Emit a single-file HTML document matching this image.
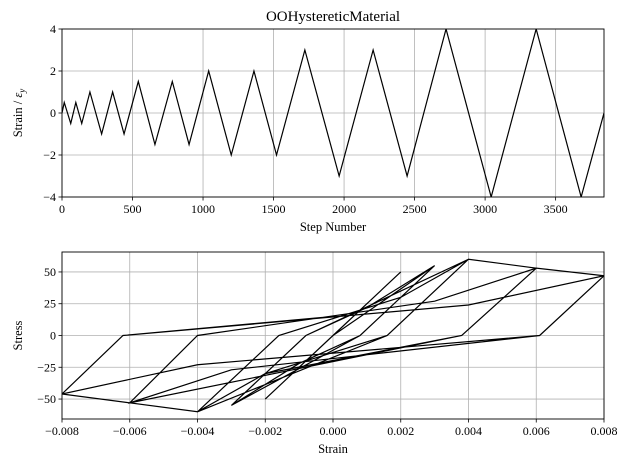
<!DOCTYPE html>
<html><head><meta charset="utf-8"><style>
body{margin:0;background:#fff;}
svg text{font-family:"Liberation Serif","DejaVu Serif",serif;fill:#000;}
</style></head><body>
<svg id="fig" width="630" height="469" viewBox="0 0 630 469" xmlns="http://www.w3.org/2000/svg">
<text x="333" y="21" font-size="15" text-anchor="middle">OOHystereticMaterial</text>
<g id="top"></g>
<g id="bot"></g>
</svg>
<script>
// Top chart data
const stepPeaks = [0, 16, 62, 98, 140, 198, 281, 359, 440, 541, 659, 782, 901, 1040, 1200, 1361, 1521, 1722, 1965, 2206, 2447, 2723, 3043, 3362, 3681, 3843];
const strainPeaks = [0, 0.5, -0.5, 0.5, -0.5, 1, -1, 1, -1, 1.5, -1.5, 1.5, -1.5, 2, -2, 2, -2, 3, -3, 3, -3, 4, -4, 4, -4, 0];
const topXTicks = [0, 500, 1000, 1500, 2000, 2500, 3000, 3500];
const topYTicks = [-4, -2, 0, 2, 4];
// Bottom chart data
const hStrain = [0,0.001,-0.001,0.001,-0.001,0.002,0,-0.002,0,0.002,0,-0.002,0,0.003,0.0008,-0.001,-0.003,-0.0008,0.001,0.003,0.0008,-0.003,-0.0008,0.004,0.0016,-0.002,-0.004,-0.0016,0.002,0.004,0.0016,-0.004,-0.0016,0.002,0.004,0.006,0.0038,-0.002,-0.004,-0.006,-0.004,0.003,0.006,0.0038,-0.006,-0.004,0.003,0.006,0.008,0.0061,-0.003,-0.006,-0.008,-0.0062,0.004,0.008,0.0061,-0.004,-0.008,-0.0062,0];
const hStress = [0,25,-25,25,-25,50,0,-50,0,50,0,-50,0,55,0,-22,-55,0,22,55,0,-55,0,60,0,-30,-60,0,30,60,0,-60,0,30,60,53,0,-30,-60,-53,0,27,53,0,-53,0,27,53,47,0,-27,-53,-46,0,24,47,0,-23,-46,0,15];
const botXTicks = [-0.008,-0.006,-0.004,-0.002,0,0.002,0.004,0.006,0.008];
const botYTicks = [-50,-25,0,25,50];

const NS="http://www.w3.org/2000/svg";
function mk(parent,tag,attrs){const e=document.createElementNS(NS,tag);for(const k in attrs)e.setAttribute(k,attrs[k]);parent.appendChild(e);return e;}
function fmt(v,d){const s=v.toFixed(d);return s.replace('-','\u2212');}

function axes(g,L,R,T,B,xmin,xmax,ymin,ymax,xt,yt,xd,xlab,ylab,xs,ys,name){
  const X=v=>L+(v-xmin)/(xmax-xmin)*(R-L);
  const Y=v=>B-(v-ymin)/(ymax-ymin)*(B-T);
  xt.forEach(v=>{
    const l=mk(g,'line',{x1:X(v),x2:X(v),y1:T,y2:B,stroke:'#b0b0b0','stroke-width':0.8});
    
    const tk=mk(g,'line',{x1:X(v),x2:X(v),y1:B,y2:B+3.5,stroke:'#000','stroke-width':0.8});
    
    const t=mk(g,'text',{x:X(v),y:B+16,'font-size':12,'text-anchor':'middle'});t.textContent=fmt(v,xd);
    
  });
  yt.forEach(v=>{
    const l=mk(g,'line',{x1:L,x2:R,y1:Y(v),y2:Y(v),stroke:'#b0b0b0','stroke-width':0.8});
    
    const tk=mk(g,'line',{x1:L-3.5,x2:L,y1:Y(v),y2:Y(v),stroke:'#000','stroke-width':0.8});
    
    const t=mk(g,'text',{x:L-6,y:Y(v)+4,'font-size':12,'text-anchor':'end'});t.textContent=fmt(v,0);
    
  });
  const pts=xs.map((x,i)=>X(x).toFixed(2)+','+Y(ys[i]).toFixed(2)).join(' ');
  const cp=mk(g,'clipPath',{id:name+'-clip'});mk(cp,'rect',{x:L,y:T,width:R-L,height:B-T});
  const pl=mk(g,'polyline',{points:pts,fill:'none',stroke:'#000','stroke-width':1.2,'stroke-linejoin':'miter','clip-path':'url(#'+name+'-clip)'});
  
  const fr=mk(g,'rect',{x:L,y:T,width:R-L,height:B-T,fill:'none',stroke:'#000','stroke-width':0.9});
  
  const xl=mk(g,'text',{x:(L+R)/2,y:B+34,'font-size':12.5,'text-anchor':'middle'});xl.textContent=xlab;
  
  const yl=mk(g,'text',{x:0,y:0,'font-size':12.5,'text-anchor':'middle',transform:'translate(22,'+((T+B)/2)+') rotate(-90)'});yl.innerHTML=ylab;
  
}
axes(document.getElementById('top'),62,604,29,197,0,3843,-4,4,topXTicks,topYTicks,0,'Step Number','Strain / <tspan font-style="italic">ε</tspan><tspan font-size="9" dy="3" font-style="italic">y</tspan>',stepPeaks,strainPeaks,'top');
axes(document.getElementById('bot'),62,604,252,419,-0.008,0.008,-65.7,65.7,botXTicks,botYTicks,3,'Strain','Stress',hStrain,hStress,'bot');
</script>
</body></html>
